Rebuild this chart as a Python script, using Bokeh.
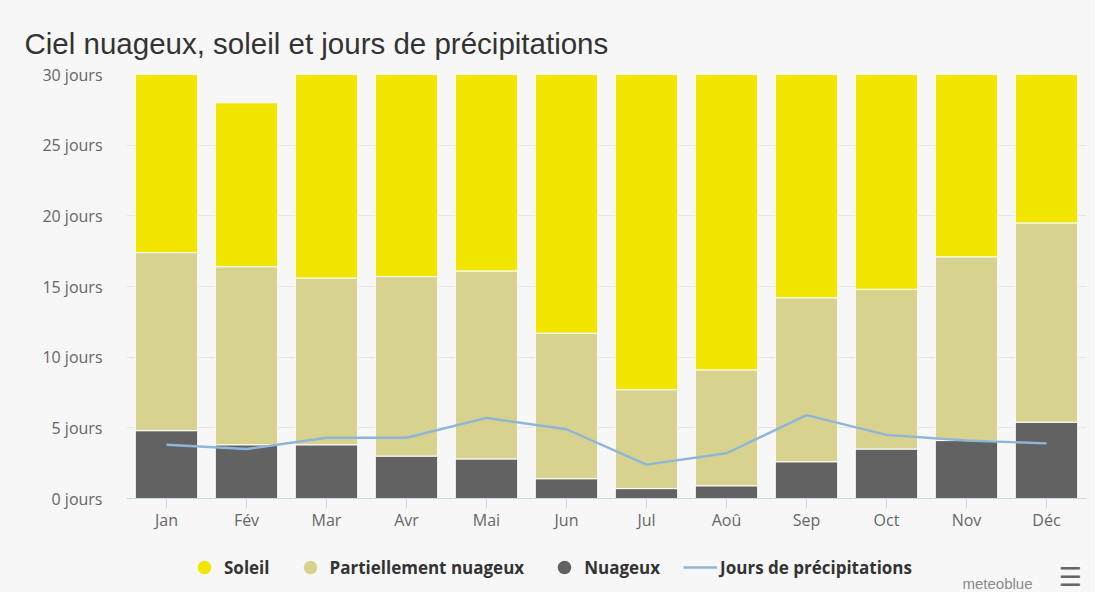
from bokeh.plotting import figure
from bokeh.layouts import column
from bokeh.models import (ColumnDataSource, Legend, LegendItem, Label, PrintfTickFormatter,
                          FixedTicker, Range1d)
from bokeh.embed import file_html
from bokeh.resources import INLINE

mois = ["Jan", "Fév", "Mar", "Avr", "Mai", "Jun", "Jul", "Aoû", "Sep", "Oct", "Nov", "Déc"]
nuageux = [4.8, 3.8, 3.8, 3.0, 2.8, 1.4, 0.7, 0.9, 2.6, 3.5, 4.1, 5.4]
partiellement = [12.6, 12.6, 11.8, 12.7, 13.3, 10.3, 7.0, 8.2, 11.6, 11.3, 13.0, 14.1]
soleil = [13.6, 11.6, 15.4, 14.3, 14.9, 18.3, 23.3, 21.9, 15.8, 16.2, 12.9, 11.5]
precipitations = [3.8, 3.5, 4.3, 4.3, 5.7, 4.9, 2.4, 3.2, 5.9, 4.5, 4.1, 3.9]
y_ticks = [0, 5, 10, 15, 20, 25, 30]

C_SOLEIL = "#f2e600"
C_PART = "#d8d28f"
C_NUAG = "#626262"
C_PREC = "#8fb6d9"
BG = "#f7f7f7"
FONT = "Open Sans"
W = 1095
LEFT, RIGHT = 126, 9
H1, H2 = 536, 56

src = ColumnDataSource(dict(mois=mois, nuageux=nuageux, partiellement=partiellement,
                            soleil=soleil, precipitations=precipitations))

p = figure(x_range=mois, width=W, height=H1, output_backend="svg", toolbar_location=None,
           min_border_left=LEFT, min_border_right=RIGHT, min_border_top=74, min_border_bottom=H1 - 498)
p.y_range = Range1d(0, 30)
p.x_range.range_padding = 0
p.background_fill_color = BG
p.border_fill_color = BG
p.outline_line_color = None

p.title.text = "Ciel nuageux, soleil et jours de précipitations"
p.title.text_font = "Liberation Sans"
p.title.text_font_size = "29.5px"
p.title.text_font_style = "normal"
p.title.text_color = "#333333"
p.title.align = "left"
p.title.offset = -102
p.title.standoff = 29

p.vbar_stack(["nuageux", "partiellement", "soleil"], x="mois", width=0.78, source=src,
             color=[C_NUAG, C_PART, C_SOLEIL], line_color="white", line_width=1)
p.line(x="mois", y="precipitations", source=src, line_color=C_PREC, line_width=2.4)

p.xgrid.grid_line_color = None
p.ygrid.grid_line_color = "#e6e6e6"
p.yaxis.ticker = FixedTicker(ticks=y_ticks)
p.yaxis.formatter = PrintfTickFormatter(format="%d jours")
p.yaxis.axis_line_color = None
p.yaxis.major_tick_line_color = None
p.yaxis.major_tick_out = 0
p.yaxis.minor_tick_line_color = None
p.yaxis.major_label_standoff = 24
p.yaxis.major_label_text_font = FONT
p.yaxis.major_label_text_font_size = "16px"
p.yaxis.major_label_text_color = "#666666"

p.xaxis.axis_line_color = "#ccd6eb"
p.xaxis.major_tick_line_color = "#ccd6eb"
p.xaxis.major_tick_out = 10
p.xaxis.major_tick_in = 0
p.xaxis.major_label_standoff = 0
p.xaxis.major_label_text_font = FONT
p.xaxis.major_label_text_font_size = "16px"
p.xaxis.major_label_text_color = "#666666"

# bottom strip: legend + brand
b = figure(width=W, height=H2, output_backend="svg", toolbar_location=None,
           x_range=p.x_range, y_range=Range1d(1000, 1001),
           min_border_left=LEFT, min_border_right=RIGHT, min_border_top=0, min_border_bottom=0)
b.axis.visible = False
b.grid.visible = False
b.outline_line_color = None
b.background_fill_color = BG
b.border_fill_color = BG

# legend proxies: same data, outside the strip's y range
leg_s = b.scatter(x="mois", y="soleil", source=src, marker="circle", fill_color=C_SOLEIL, line_color=None)
leg_p = b.scatter(x="mois", y="partiellement", source=src, marker="circle", fill_color=C_PART, line_color=None)
leg_n = b.scatter(x="mois", y="nuageux", source=src, marker="circle", fill_color=C_NUAG, line_color=None)
leg_l = b.line(x="mois", y="precipitations", source=src, line_color=C_PREC, line_width=2.4)

legend = Legend(items=[LegendItem(label="Soleil", renderers=[leg_s]),
                       LegendItem(label="Partiellement nuageux", renderers=[leg_p]),
                       LegendItem(label="Nuageux", renderers=[leg_n]),
                       LegendItem(label="Jours de précipitations", renderers=[leg_l])],
                orientation="horizontal", location=(187 - LEFT, 8),
                glyph_width=34, glyph_height=34, label_height=34, label_standoff=3, spacing=23,
                padding=0, margin=0, border_line_color=None, background_fill_alpha=0,
                label_text_font=FONT, label_text_font_style="bold", label_text_font_size="17px",
                label_text_color="#333333")
b.add_layout(legend, "center")

brand = Label(x=962 - LEFT, y=9, x_units="screen", y_units="screen", text="meteoblue",
              text_font="Liberation Sans", text_font_size="15px", text_color="#8a8a8a",
              text_baseline="middle")
b.add_layout(brand)
menu = Label(x=1070 - LEFT, y=1, x_units="screen", y_units="screen", text="☰",
             text_font="DejaVu Sans", text_font_size="26px", text_color="#666666",
             text_align="center", text_baseline="bottom")
b.add_layout(menu)

layout = column(p, b, spacing=0, styles={"background-color": BG})
open("out.html", "w").write(file_html(layout, INLINE))
